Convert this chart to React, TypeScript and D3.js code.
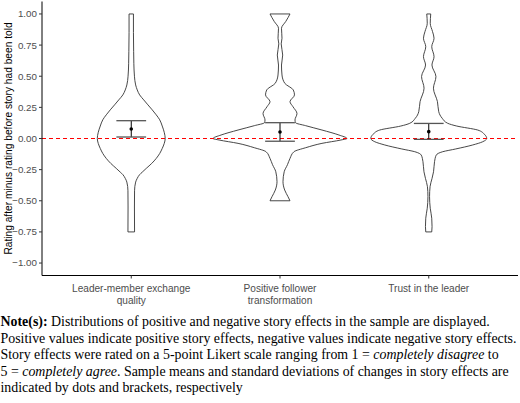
import React from 'react';
import * as d3 from 'd3';

// categories on the x axis (two-line labels)
const categories = ['lmx', 'pft', 'trust'];
const categoryLabels = [
  ['Leader-member exchange', 'quality'],
  ['Positive follower', 'transformation'],
  ['Trust in the leader'],
];

// y ticks
const yTicks = [1, 0.75, 0.5, 0.25, 0, -0.25, -0.5, -0.75, -1];

// violin outlines: [change, density]
const lmxDensity: [number, number][] = [
  [1.0, 2.2], [0.85, 2.2], [0.7, 2.4], [0.6, 2.6], [0.5, 3.2], [0.43, 4.4], [0.39, 6], [0.35, 8.4],
  [0.31, 12.5], [0.27, 16.7], [0.23, 21], [0.19, 25], [0.15, 28.5], [0.1, 31], [0.05, 33], [0.0, 34],
  [-0.04, 33], [-0.08, 31], [-0.12, 28.5], [-0.16, 25], [-0.2, 20.5], [-0.24, 15], [-0.27, 11],
  [-0.29, 8.4], [-0.32, 6], [-0.35, 4.4], [-0.42, 3.3], [-0.55, 3.2], [-0.75, 3.3],
];
const pftDensity: [number, number][] = [
  [1.0, 10], [0.97, 8], [0.94, 5.8], [0.885, 1.5], [0.805, 2], [0.76, 1.2], [0.67, 2.7], [0.59, 1.5],
  [0.51, 2], [0.443, 4.8], [0.39, 13.3], [0.35, 14.5], [0.296, 10], [0.255, 13], [0.2, 17], [0.149, 15],
  [0.127, 15.5], [0.103, 25.7], [0.068, 42], [0.028, 59], [0.0, 67], [-0.012, 61], [-0.039, 42],
  [-0.074, 25.7], [-0.106, 14], [-0.16, 10], [-0.21, 7.5], [-0.267, 4.2], [-0.347, 3], [-0.414, 4.7],
  [-0.467, 8], [-0.5, 10],
];
const trustDensity: [number, number][] = [
  [1.0, 2], [0.925, 1.5], [0.858, 3.8], [0.805, 5.3], [0.737, 3], [0.657, 5.3], [0.59, 3.2],
  [0.497, 7.2], [0.404, 4.7], [0.296, 8.7], [0.215, 10], [0.162, 13.5], [0.122, 19], [0.1, 28],
  [0.068, 49], [0.034, 55.7], [0.0, 58], [-0.026, 54], [-0.052, 44], [-0.084, 27], [-0.106, 14],
  [-0.133, 7.5], [-0.186, 5.8], [-0.267, 4.8], [-0.32, 3.3], [-0.387, 1.3], [-0.467, 0.8],
  [-0.56, 1.5], [-0.64, 3], [-0.708, 3.3], [-0.75, 3],
];
const densities = [lmxDensity, pftDensity, trustDensity];

// means and brackets
const means = [0.076, 0.052, 0.055];
const lowers = [0.012, -0.022, -0.007];
const uppers = [0.143, 0.127, 0.121];

const W = 520;
const H = 403;
const left = 42;
const right = 518;
const top = 1.5;
const bottom = 275.5;

const sans = '"Liberation Sans", Arial, sans-serif';
const serif = '"Liberation Serif", "Times New Roman", serif';

export default function App() {
  const x = d3.scalePoint<string>().domain(categories).range([left, right]).padding(0.6);
  const y = d3.scaleLinear().domain([-1.1, 1.1]).range([bottom, top]);
  const step = x.step();
  const maxD = d3.max(densities.flat(), d => d[1]) || 1;
  const w = d3.scaleLinear().domain([0, maxD]).range([0, step * 0.45]);

  const violinPath = (cat: string, pts: [number, number][]) => {
    const cx = x(cat) || 0;
    const area = d3.area<[number, number]>()
      .y(d => y(d[0]))
      .x0(d => cx - w(d[1]))
      .x1(d => cx + w(d[1]))
      .curve(d3.curveMonotoneY);
    return area([...pts].reverse()) || '';
  };

  const capHalf = step * 0.1;

  const captionLines: { t: string; s?: 'b' | 'i' }[][] = [
    [{ t: 'Note(s):', s: 'b' }, { t: ' Distributions of positive and negative story effects in the sample are displayed.' }],
    [{ t: 'Positive values indicate positive story effects, negative values indicate negative story effects.' }],
    [{ t: 'Story effects were rated on a 5-point Likert scale ranging from 1 = ' }, { t: 'completely disagree', s: 'i' }, { t: ' to' }],
    [{ t: '5 = ' }, { t: 'completely agree', s: 'i' }, { t: '. Sample means and standard deviations of changes in story effects are' }],
    [{ t: 'indicated by dots and brackets, respectively' }],
  ];

  return (
    <svg width={W} height={H} style={{ position: 'absolute', left: 0, top: 0, background: '#fff' }}>
      {/* violins */}
      {categories.map((c, i) => (
        <path key={c} d={violinPath(c, densities[i])} fill="#fff" stroke="#333" strokeWidth={0.9} />
      ))}

      {/* zero line */}
      <line x1={left} x2={right} y1={y(0)} y2={y(0)} stroke="#ff0000" strokeWidth={1} strokeDasharray="4 3" />

      {/* brackets and means */}
      {categories.map((c, i) => {
        const cx = x(c) || 0;
        return (
          <g key={c}>
            <line x1={cx} x2={cx} y1={y(lowers[i])} y2={y(uppers[i])} stroke="#000" strokeWidth={1} />
            <line x1={cx - capHalf} x2={cx + capHalf} y1={y(lowers[i])} y2={y(lowers[i])} stroke="#555" strokeWidth={1.3} />
            <line x1={cx - capHalf} x2={cx + capHalf} y1={y(uppers[i])} y2={y(uppers[i])} stroke="#555" strokeWidth={1.3} />
            <circle cx={cx} cy={y(means[i])} r={1.8} fill="#000" />
          </g>
        );
      })}

      {/* axes */}
      <line x1={left} x2={left} y1={top} y2={bottom} stroke="#000" strokeWidth={1} />
      <line x1={left} x2={right} y1={bottom} y2={bottom} stroke="#000" strokeWidth={1} />
      {yTicks.map(t => (
        <g key={t}>
          <line x1={left - 3} x2={left} y1={y(t)} y2={y(t)} stroke="#333" strokeWidth={1} />
          <text x={left - 5} y={y(t)} dy="0.35em" textAnchor="end" fontFamily={sans} fontSize={9.8} fill="#4d4d4d">
            {t < 0 ? '\u2212' + Math.abs(t).toFixed(2) : t.toFixed(2)}
          </text>
        </g>
      ))}
      {categories.map((c, i) => (
        <g key={c}>
          <line x1={x(c)} x2={x(c)} y1={bottom} y2={bottom + 3} stroke="#333" strokeWidth={1} />
          {categoryLabels[i].map((l, j) => (
            <text key={j} x={x(c)} y={292 + j * 11.5} textAnchor="middle" fontFamily={sans} fontSize={10.1} fill="#4d4d4d">
              {l}
            </text>
          ))}
        </g>
      ))}
      <text transform={`translate(11.5,${(top + bottom) / 2}) rotate(-90)`} textAnchor="middle" fontFamily={sans} fontSize={10.2} fill="#000">
        Rating after minus rating before story had been told
      </text>

      {/* caption */}
      {captionLines.map((line, i) => (
        <text key={i} x={0.5} y={326 + i * 16.6} fontFamily={serif} fontSize={13.9} fill="#000">
          {line.map((seg, j) => (
            <tspan key={j} fontWeight={seg.s === 'b' ? 'bold' : 'normal'} fontStyle={seg.s === 'i' ? 'italic' : 'normal'}>
              {seg.t}
            </tspan>
          ))}
        </text>
      ))}
    </svg>
  );
}
